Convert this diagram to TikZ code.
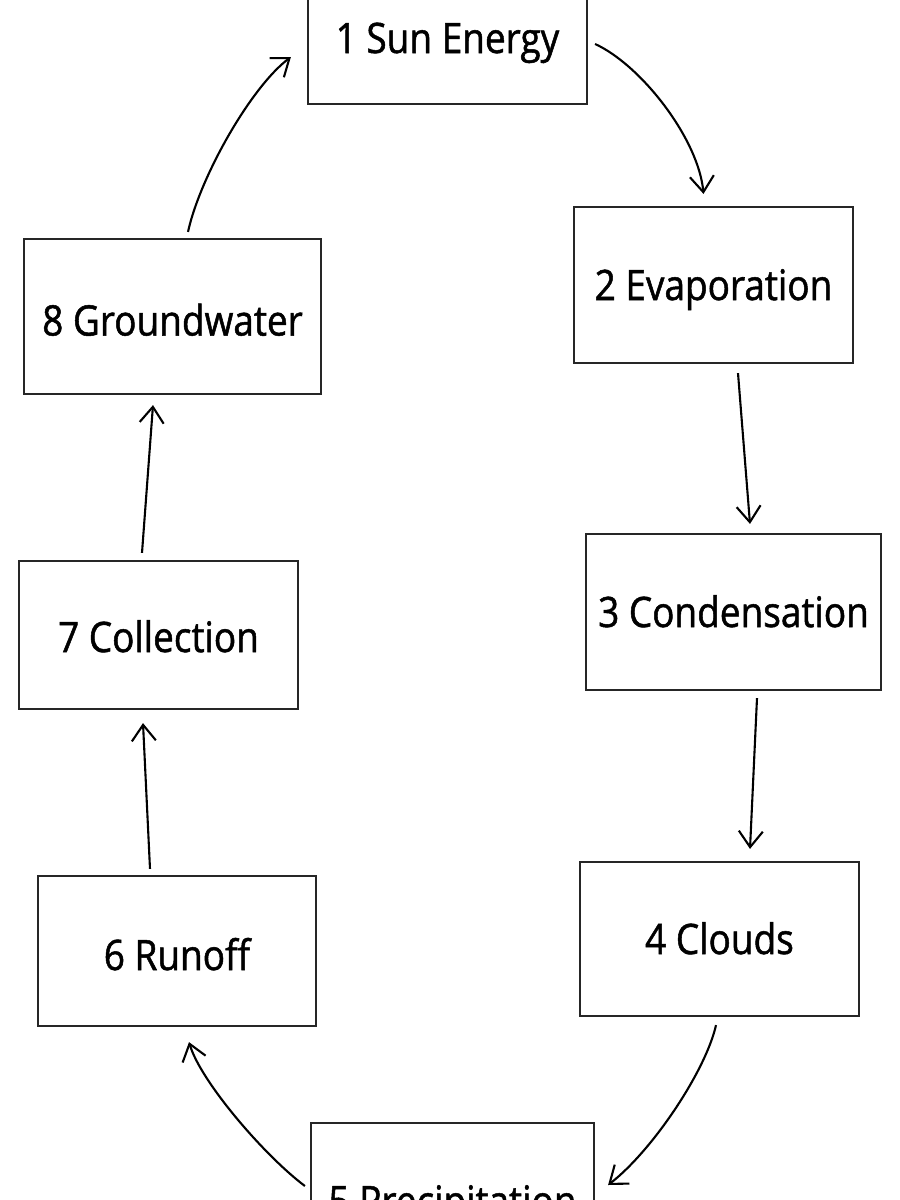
\documentclass[tikz,border=0pt]{standalone}
\usepackage{fontspec}
\setmainfont{Open Sans}[FakeStretch=0.88,FakeBold=1.2]
\usetikzlibrary{calc,arrows.meta}
\begin{document}
\begin{tikzpicture}[x=1pt,y=-1pt,
  box/.style={draw=black!85, line width=2.2pt, inner sep=0pt,
    font=\fontsize{42}{50}\selectfont, text height=30pt, text depth=0pt},
  flow/.style={draw=black, line width=2.1pt,
    -{Straight Barb[length=16pt,width=24pt,line width=2.1pt]}}]
\useasboundingbox (0,0) rectangle (900,1200);
\clip (0,0) rectangle (900,1200);
\fill[white] (0,0) rectangle (900,1200);

\node[box, minimum width=279pt, minimum height=132pt] (b1) at (447.5,38) {1 Sun Energy};
\node[box, minimum width=279pt, minimum height=156pt] (b2) at (713.5,285) {2 Evaporation};
\node[box, minimum width=295pt, minimum height=156pt] (b3) at (733.5,612) {3 Condensation};
\node[box, minimum width=279pt, minimum height=154pt] (b4) at (719.5,939) {4 Clouds};
\node[box, minimum width=283pt, minimum height=156pt] (b5) at (452.5,1201) {5 Precipitation};
\node[box, minimum width=278pt, minimum height=150pt, text height=38pt] (b6) at (177,951) {6 Runoff};
\node[box, minimum width=279pt, minimum height=148pt, text height=34pt] (b7) at (158.5,635) {7 Collection};
\node[box, minimum width=297pt, minimum height=155pt, text height=38pt] (b8) at (172.5,316.5) {8 Groundwater};

\draw[flow] ($(b1.east)+(7,6)$) .. controls +(46,21) and +(-5,-55) .. ($(b2.north)+(-10,-12)$);
\draw[flow] ($(b2.south)+(24.5,9)$) -- ($(b3.north)+(16.5,-9)$);
\draw[flow] ($(b3.south)+(23.5,7)$) -- ($(b4.north)+(30.5,-12)$);
\draw[flow] ($(b4.south)+(-3.5,8)$) .. controls +(-10,45) and +(45,-35) .. ($(b5.east)+(13,-16)$);
\draw[flow] ($(b5.west)+(-5,-15)$) .. controls +(-40,-30) and +(12,40) .. ($(b6.south)+(12,15)$);
\draw[flow] ($(b6.north)+(-27,-6)$) -- ($(b7.south)+(-15.5,13)$);
\draw[flow] ($(b7.north)+(-16.5,-7)$) -- ($(b8.south)+(-19.5,10)$);
\draw[flow] ($(b8.north)+(15.5,-6)$) .. controls +(12,-55) and +(-40,30) .. ($(b1.west)+(-16,19)$);
\end{tikzpicture}
\end{document}
